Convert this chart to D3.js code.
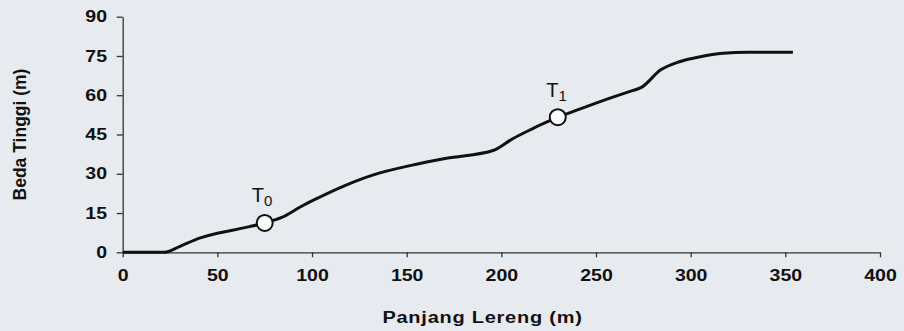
<!DOCTYPE html>
<html>
<head>
<meta charset="utf-8">
<script src="https://cdn.jsdelivr.net/npm/d3@7"></script>
<style>
  html, body { margin: 0; padding: 0; background: #e7eaef; }
  svg { display: block; }
</style>
</head>
<body>
<svg id="chart" width="904" height="331"></svg>
<script>
// Slope profile: horizontal distance along the slope (m) and elevation difference (m)
const slopeLength = [0, 22, 30, 41, 50, 58, 67, 75, 84, 94, 101, 118, 132, 153, 171, 196, 206, 215, 230, 241, 257, 268, 274, 284, 294, 305, 317, 330, 354];
const heightDiff  = [0, 0, 2.2, 5.5, 7.3, 8.4, 9.8, 11.2, 13.3, 17.4, 20, 25.7, 29.5, 33.3, 35.9, 39, 43.4, 46.7, 51.6, 54.6, 58.8, 61.5, 63, 69.6, 72.8, 74.7, 76, 76.4, 76.4];

// Observation points on the profile
const pointX = [75, 229.8];
const pointY = [11.2, 51.6];
const pointSub = ["0", "1"];

// Axis ticks and titles
const xTicks = [0, 50, 100, 150, 200, 250, 300, 350, 400];
const yTicks = [0, 15, 30, 45, 60, 75, 90];
const xTitle = "Panjang Lereng (m)";
const yTitle = "Beda Tinggi (m)";

const svg = d3.select("#chart");
const font = "Arial, 'Liberation Sans', Helvetica, sans-serif";
const ink = "#111";
const wide = 1.22; // horizontal widening of the bold label face

const x = d3.scaleLinear().domain([0, 400]).range([122.7, 880]);
const y = d3.scaleLinear().domain([0, 90]).range([252.3, 16.7]);

// X axis
const gx = svg.append("g")
  .attr("transform", `translate(0,${y(0)})`)
  .call(d3.axisBottom(x).tickValues(xTicks).tickSize(5).tickSizeOuter(0).tickPadding(12.5));

// Y axis
const gy = svg.append("g")
  .attr("transform", `translate(${x(0)},0)`)
  .call(d3.axisLeft(y).tickValues(yTicks).tickSize(6).tickSizeOuter(0).tickPadding(9.5));

[gx, gy].forEach(g => {
  g.select(".domain").attr("stroke", "#333").attr("stroke-width", 1.3);
  g.selectAll(".tick line").attr("stroke", "#333").attr("stroke-width", 1.3);
  g.selectAll(".tick text")
    .attr("fill", ink)
    .style("font-family", font)
    .style("font-weight", "bold")
    .style("font-size", "16px");
});
gx.selectAll(".tick text").attr("transform", `scale(${wide},1)`);
gy.selectAll(".tick text")
  .attr("x", -15.7 / wide)
  .attr("transform", `scale(${wide},1)`);

// Axis titles
svg.append("text")
  .attr("transform", "translate(482.5,323) scale(1.25,1)")
  .attr("text-anchor", "middle")
  .attr("fill", ink)
  .style("font-family", font).style("font-weight", "bold").style("font-size", "16px")
  .style("letter-spacing", "0.6px")
  .text(xTitle);

svg.append("text")
  .attr("transform", "translate(26,134.5) rotate(-90)")
  .attr("text-anchor", "middle")
  .attr("fill", ink)
  .style("font-family", font).style("font-weight", "bold").style("font-size", "17.5px")
  .text(yTitle);

// Profile line
const line = d3.line()
  .x((d, i) => x(slopeLength[i]))
  .y((d, i) => y(heightDiff[i]))
  .curve(d3.curveMonotoneX);

svg.append("path")
  .datum(slopeLength)
  .attr("d", line)
  .attr("fill", "none")
  .attr("stroke", ink)
  .attr("stroke-width", 3)
  .attr("stroke-linejoin", "round");

// Observation markers with T-labels
const labelDx = [-13, -11.5];
pointX.forEach((px, i) => {
  const cx = x(px), cy = y(pointY[i]);
  svg.append("circle")
    .attr("cx", cx).attr("cy", cy).attr("r", 8)
    .attr("fill", "#fff")
    .attr("stroke", ink)
    .attr("stroke-width", 2);

  const t = svg.append("text")
    .attr("x", cx + labelDx[i]).attr("y", cy - 20.5)
    .attr("fill", ink)
    .style("font-family", font).style("font-size", "20px");
  t.append("tspan").text("T");
  t.append("tspan").attr("dy", 4).style("font-size", "15px").text(pointSub[i]);
});
</script>
</body>
</html>
